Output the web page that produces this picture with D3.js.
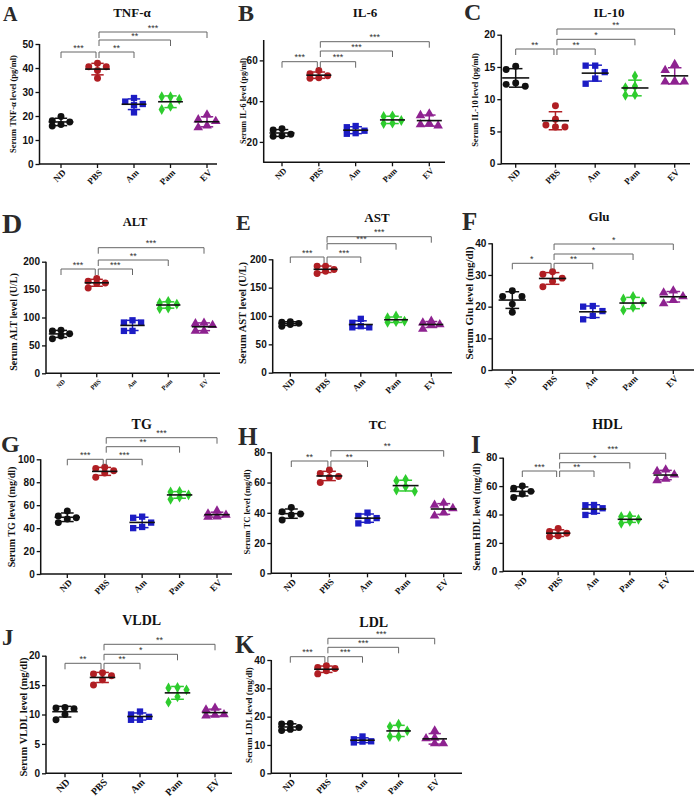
<!DOCTYPE html>
<html>
<head>
<meta charset="utf-8">
<style>
  body { margin: 0; background: #fff; }
  svg { display: block; }
  .ytick text { font-family: "Liberation Sans", Arial, sans-serif; font-weight: bold; font-size: 10px; fill: #111; }
  .ytick .domain { display: none; }
  .ytick line { stroke: #111; stroke-width: 1.3; }
  .xlab { font-family: "Liberation Serif", "Times New Roman", serif; font-weight: bold; fill: #111; }
  .title { font-family: "Liberation Serif", "Times New Roman", serif; font-weight: bold; fill: #111; text-anchor: middle; }
  .letter { font-family: "Liberation Serif", "Times New Roman", serif; font-weight: bold; fill: #2a2a2a; }
  .ytitle { font-family: "Liberation Serif", "Times New Roman", serif; font-weight: bold; fill: #111; text-anchor: middle; }
  .stars { font-family: "Liberation Sans", Arial, sans-serif; font-size: 9px; fill: #333; text-anchor: middle; }
</style>
</head>
<body>
<svg width="696" height="799"></svg>
<script src="https://cdn.jsdelivr.net/npm/d3@7"></script>
<script>
const groups = ["ND", "PBS", "Am", "Pam", "EV"];
const groupColors = ["#111111", "#b01e23", "#1c1cc4", "#2ecc2e", "#8e2290"];
const groupShapes = [d3.symbolCircle, d3.symbolCircle, d3.symbolSquare, d3.symbolDiamond, d3.symbolTriangle];

// values per group (ND, PBS, Am, Pam, EV)
const tnfValues = [[15.8, 17.5, 18, 19.8, 16.5], [40.5, 42, 40.5, 39, 35.7], [21.5, 24.5, 25, 27.5, 26], [28, 28, 27, 24, 22.7], [20.5, 18.5, 17.8, 15.2, 16.0]];
const il6Values = [[26.5, 25.8, 23.8, 22.8, 23.0], [55, 53.5, 52.5, 51.5, 51.2], [27.8, 27.2, 25.5, 24.0, 24.3], [32.8, 32.5, 30.5, 29, 29.2], [33.8, 33.0, 28.5, 28.0, 29.0]];
const il10Values = [[15.1, 14.6, 12.0, 12.3, 12.5], [9.0, 5.7, 5.7, 6.9, 6.0], [15.2, 15.2, 14.2, 13.2, 12.4], [13.6, 12.0, 11.8, 10.7, 10.6], [15.4, 14.5, 12.8, 12.7, 12.7]];
const altValues = [[77, 76, 71, 67, 62], [165, 170, 162, 153, 161], [91, 95, 91, 76, 76], [129, 126, 124, 117, 116], [90, 89, 86, 76, 76]];
const astValues = [[90, 89, 87, 82, 85], [188, 188, 182, 175, 179], [95, 88, 82, 80, 80], [100, 97, 91, 90, 89], [91, 88, 85, 84, 77]];
const gluValues = [[25, 23.2, 23.2, 20.8, 18.2], [31, 30.2, 29, 28, 26.3], [20.2, 20, 18.6, 17.1, 16], [23.2, 22.4, 21.4, 19.8, 18.9], [24.4, 25, 23.2, 22, 21]];
const tgValues = [[55, 50.5, 49, 48, 44.8], [92, 93, 90, 88, 84.3], [50, 49, 44.8, 41, 40], [72, 71.5, 69, 65.2, 67], [55, 52.5, 51.5, 50, 49.7]];
const tcValues = [[40.7, 43.6, 39.2, 38.5, 35.2], [68.3, 66, 64, 63.4, 60.1], [40.1, 37.9, 36.5, 34.8, 33], [62.1, 61.2, 57.3, 55.1, 54.2], [46.5, 45.2, 42.9, 40, 38]];
const hdlValues = [[60, 58.5, 56.3, 54.5, 52], [28, 30.2, 26.8, 24.4, 25], [46.7, 46.5, 44.4, 42, 39.7], [38.5, 39, 36.6, 33.8, 35.2], [71.5, 70.5, 68, 64, 65]];
const vldlValues = [[11.1, 11.2, 11.0, 10.0, 9.1], [16.9, 17.1, 16.6, 15.9, 15.0], [10.5, 10.0, 9.6, 9.1, 9.1], [14.6, 14.5, 14.2, 13.0, 12.1], [11.1, 10.8, 10.0, 9.8, 9.9]];
const ldlValues = [[17.4, 17.6, 16.2, 15.1, 15.5], [37, 38, 37.4, 36.2, 35.1], [13, 12, 11.3, 11.2, 10.9], [17.3, 16.5, 15, 13, 13], [15, 12.5, 12.3, 10.5, 10.5]];

// significance brackets: [from, to, label]
const tnfSig = [["ND", "PBS", "***"], ["PBS", "Am", "**"], ["PBS", "Pam", "**"], ["PBS", "EV", "***"]];
const il6Sig = [["ND", "PBS", "***"], ["PBS", "Am", "***"], ["PBS", "Pam", "***"], ["PBS", "EV", "***"]];
const il10Sig = [["ND", "PBS", "**"], ["PBS", "Am", "**"], ["PBS", "Pam", "*"], ["PBS", "EV", "**"]];
const altSig = [["ND", "PBS", "***"], ["PBS", "Am", "***"], ["PBS", "Pam", "**"], ["PBS", "EV", "***"]];
const astSig = [["ND", "PBS", "***"], ["PBS", "Am", "***"], ["PBS", "Pam", "***"], ["PBS", "EV", "***"]];
const gluSig = [["ND", "PBS", "*"], ["PBS", "Am", "**"], ["PBS", "Pam", "*"], ["PBS", "EV", "*"]];
const tgSig = [["ND", "PBS", "***"], ["PBS", "Am", "***"], ["PBS", "Pam", "**"], ["PBS", "EV", "***"]];
const tcSig = [["ND", "PBS", "**"], ["PBS", "Am", "**"], ["PBS", "EV", "**"]];
const hdlSig = [["ND", "PBS", "***"], ["PBS", "Am", "**"], ["PBS", "Pam", "*"], ["PBS", "EV", "***"]];
const vldlSig = [["ND", "PBS", "**"], ["PBS", "Am", "**"], ["PBS", "Pam", "*"], ["PBS", "EV", "**"]];
const ldlSig = [["ND", "PBS", "***"], ["PBS", "Am", "***"], ["PBS", "Pam", "***"], ["PBS", "EV", "***"]];

// layout of each panel (pixel positions)
const panels = [
  { letter: "A", title: "TNF-α", ylab: "Serum TNF-α level (pg/ml)", values: tnfValues, sig: tnfSig, domain: [0, 50], ticks: [0, 10, 20, 30, 40, 50],
    ax: 39.5, yTop: 44, yBot: 164, c0: 61, c1: 207, xEnd: 217, levels: [52, 40, 32], tl: [132, 17, 13], lt: [3, 21, 20], yt: [13, 104, 8.5], xs: 9 },
  { letter: "B", title: "IL-6", ylab: "Serum IL-6 level (pg/ml)", values: il6Values, sig: il6Sig, domain: [10, 70], ticks: [20, 40, 60],
    ax: 263.7, yTop: 40, yBot: 162.3, c0: 282, c1: 429.3, xEnd: 445, levels: [61.7, 51, 41.7], tl: [365, 17, 13], lt: [238, 20.5, 24], yt: [243, 101, 8.2], xs: 8.5 },
  { letter: "C", title: "IL-10", ylab: "Serum IL-10 level (pg/ml)", values: il10Values, sig: il10Sig, domain: [0, 20], ticks: [0, 5, 10, 15, 20],
    ax: 501.3, yTop: 34.7, yBot: 163.7, c0: 515.7, c1: 674.7, xEnd: 690, levels: [49, 39.3, 29], tl: [609, 17, 13], lt: [464, 20, 24], yt: [475, 100, 8.5], xs: 9 },
  { letter: "D", title: "ALT", ylab: "Serum ALT level (U/L)", values: altValues, sig: altSig, domain: [0, 200], ticks: [0, 50, 100, 150, 200],
    ax: 46, yTop: 261.7, yBot: 373.3, c0: 61, c1: 204, xEnd: 220, levels: [269, 260, 247.7], tl: [135, 225.5, 12.5], lt: [2, 233, 28], yt: [13.5, 322, 10], xs: 6.5 },
  { letter: "E", title: "AST", ylab: "Serum AST level (U/L)", values: astValues, sig: astSig, domain: [0, 200], ticks: [0, 50, 100, 150, 200],
    ax: 272.7, yTop: 259.3, yBot: 372.7, c0: 290.3, c1: 431.3, xEnd: 452, levels: [257, 243.7, 236.7], tl: [377, 221.5, 13], lt: [236, 230, 22], yt: [242, 313, 10.5], xs: 9 },
  { letter: "F", title: "Glu", ylab: "Serum Glu level (mg/dl)", values: gluValues, sig: gluSig, domain: [0, 40], ticks: [0, 10, 20, 30, 40],
    ax: 492.3, yTop: 243.3, yBot: 370, c0: 512.3, c1: 673.3, xEnd: 694, levels: [263.3, 254, 244], tl: [599, 221, 13], lt: [462, 230, 25], yt: [469, 303, 11], xs: 9 },
  { letter: "G", title: "TG", ylab: "Serum TG level (mg/dl)", values: tgValues, sig: tgSig, domain: [0, 100], ticks: [0, 20, 40, 60, 80, 100],
    ax: 40.7, yTop: 459.3, yBot: 574, c0: 67.3, c1: 217, xEnd: 232, levels: [459.3, 446.7, 437.7], tl: [141.7, 429, 14], lt: [1, 452, 24], yt: [11.7, 517, 10], xs: 9 },
  { letter: "H", title: "TC", ylab: "Serum TC level (mg/dl)", values: tcValues, sig: tcSig, domain: [0, 80], ticks: [0, 20, 40, 60, 80],
    ax: 271.3, yTop: 452.3, yBot: 573.3, c0: 291.3, c1: 443.7, xEnd: 462, levels: [461, 450.7], tl: [377.7, 429, 13], lt: [238, 445, 25], yt: [247, 512, 8.5], xs: 9 },
  { letter: "I", title: "HDL", ylab: "Serum HDL level (mg/dl)", values: hdlValues, sig: hdlSig, domain: [0, 80], ticks: [0, 20, 40, 60, 80],
    ax: 503.3, yTop: 457.7, yBot: 571.3, c0: 522.3, c1: 665.7, xEnd: 694, levels: [471, 462.7, 453.3], tl: [607.3, 429, 14], lt: [471, 453, 25], yt: [476.7, 517, 10], xs: 9 },
  { letter: "J", title: "VLDL", ylab: "Serum VLDL level (mg/dl)", values: vldlValues, sig: vldlSig, domain: [0, 20], ticks: [0, 5, 10, 15, 20],
    ax: 46, yTop: 655.7, yBot: 773.3, c0: 65, c1: 215, xEnd: 232, levels: [663.3, 654.3, 644.3], tl: [141.7, 625, 14], lt: [2, 645, 23], yt: [23.3, 717, 10.5], xs: 10 },
  { letter: "K", title: "LDL", ylab: "Serum LDL level (mg/dl)", values: ldlValues, sig: ldlSig, domain: [0, 40], ticks: [0, 10, 20, 30, 40],
    ax: 271.3, yTop: 660, yBot: 773.3, c0: 290.3, c1: 434.7, xEnd: 462, levels: [656.7, 647.3, 638.3], tl: [373.7, 627, 14], lt: [235, 653, 25], yt: [248.7, 715, 9], xs: 9 }
];

const svg = d3.select("svg");
svg.append("rect").attr("width", 696).attr("height", 799).attr("fill", "#fff");

// spread points over three columns when they would overlap
function swarm(vals, y, step, minDist) {
  const order = d3.range(vals.length).sort((a, b) => vals[b] - vals[a]);
  const placed = [];
  const off = [];
  for (const i of order) {
    const py = y(vals[i]);
    let best = 0, bestD = -1;
    for (const k of [0, -1, 1]) {
      const px = k * step;
      const dmin = placed.length ? d3.min(placed, q => Math.hypot(q[0] - px, q[1] - py)) : Infinity;
      if (dmin >= minDist) { best = px; bestD = dmin; break; }
      if (dmin > bestD) { best = px; bestD = dmin; }
    }
    off[i] = best;
    placed.push([best, py]);
  }
  return off;
}

function drawPanel(p) {
  const g = svg.append("g");
  const y = d3.scaleLinear().domain(p.domain).range([p.yBot, p.yTop]);
  const x = d3.scalePoint().domain(groups).range([p.c0, p.c1]);
  const spacing = x.step();

  // letter, title, y title
  g.append("text").attr("class", "letter").attr("x", p.lt[0]).attr("y", p.lt[1])
    .style("font-size", p.lt[2] + "px").text(p.letter);
  g.append("text").attr("class", "title").attr("x", p.tl[0]).attr("y", p.tl[1])
    .style("font-size", p.tl[2] + "px").text(p.title);
  g.append("text").attr("class", "ytitle")
    .attr("transform", `translate(${p.yt[0]},${p.yt[1]}) rotate(-90)`)
    .attr("dy", "0.35em")
    .style("font-size", p.yt[2] + "px").text(p.ylab);

  // axes
  g.append("g").attr("class", "ytick")
    .attr("transform", `translate(${p.ax},0)`)
    .call(d3.axisLeft(y).tickValues(p.ticks).tickSize(4).tickPadding(2));
  g.append("line").attr("x1", p.ax).attr("x2", p.ax).attr("y1", y(p.domain[0]) + 0.6).attr("y2", y(p.domain[1]))
    .attr("stroke", "#111").attr("stroke-width", 1.5);
  g.append("line").attr("x1", p.ax).attr("x2", p.xEnd).attr("y1", y(p.domain[0])).attr("y2", y(p.domain[0]))
    .attr("stroke", "#111").attr("stroke-width", 1.5);
  g.selectAll(".xt").data(groups).join("line")
    .attr("x1", d => x(d)).attr("x2", d => x(d))
    .attr("y1", y(p.domain[0])).attr("y2", y(p.domain[0]) + 4)
    .attr("stroke", "#111").attr("stroke-width", 1.3);
  g.selectAll(".xlab").data(groups).join("text")
    .attr("class", "xlab")
    .attr("transform", d => `translate(${x(d) + 3},${y(p.domain[0]) + 7}) rotate(-45)`)
    .attr("text-anchor", "end").attr("dy", "0.35em")
    .style("font-size", p.xs + "px")
    .text(d => d);

  // points
  p.values.forEach((vals, gi) => {
    const cx = x(groups[gi]);
    const off = swarm(vals, y, spacing * 0.24, 7);
    const sym = d3.symbol().type(groupShapes[gi]).size(gi === 3 ? 34 : gi >= 2 ? 40 : 38);
    g.append("g").selectAll("path").data(vals).join("path")
      .attr("d", sym)
      .attr("transform", (d, i) => `translate(${cx + off[i]},${y(d)})`)
      .attr("fill", groupColors[gi]);
  });

  // mean and SD
  p.values.forEach((vals, gi) => {
    const cx = x(groups[gi]);
    const m = d3.mean(vals), sd = d3.deviation(vals);
    const mh = spacing * 0.34, ch = spacing * 0.17;
    const col = groupColors[gi];
    g.append("line").attr("x1", cx).attr("x2", cx).attr("y1", y(m - sd)).attr("y2", y(m + sd))
      .attr("stroke", col).attr("stroke-width", 1.5);
    [m - sd, m + sd].forEach(v => {
      g.append("line").attr("x1", cx - ch).attr("x2", cx + ch).attr("y1", y(v)).attr("y2", y(v))
        .attr("stroke", col).attr("stroke-width", 1.5);
    });
    g.append("line").attr("x1", cx - mh).attr("x2", cx + mh).attr("y1", y(m)).attr("y2", y(m))
      .attr("stroke", "#111").attr("stroke-width", 1.6);
  });

  // significance brackets
  p.sig.forEach((s, i) => {
    const lvl = p.levels[Math.max(0, i - 1)];
    let x1 = x(s[0]), x2 = x(s[1]);
    if (s[0] === "PBS") x1 += 1.5; else x2 -= 1.5;
    g.append("path")
      .attr("d", `M${x1},${lvl + 6}V${lvl}H${x2}V${lvl + 6}`)
      .attr("fill", "none").attr("stroke", "#666").attr("stroke-width", 1);
    g.append("text").attr("class", "stars")
      .attr("x", (x1 + x2) / 2).attr("y", lvl - 1.5)
      .text(s[2]);
  });
}

panels.forEach(drawPanel);
</script>
</body>
</html>
